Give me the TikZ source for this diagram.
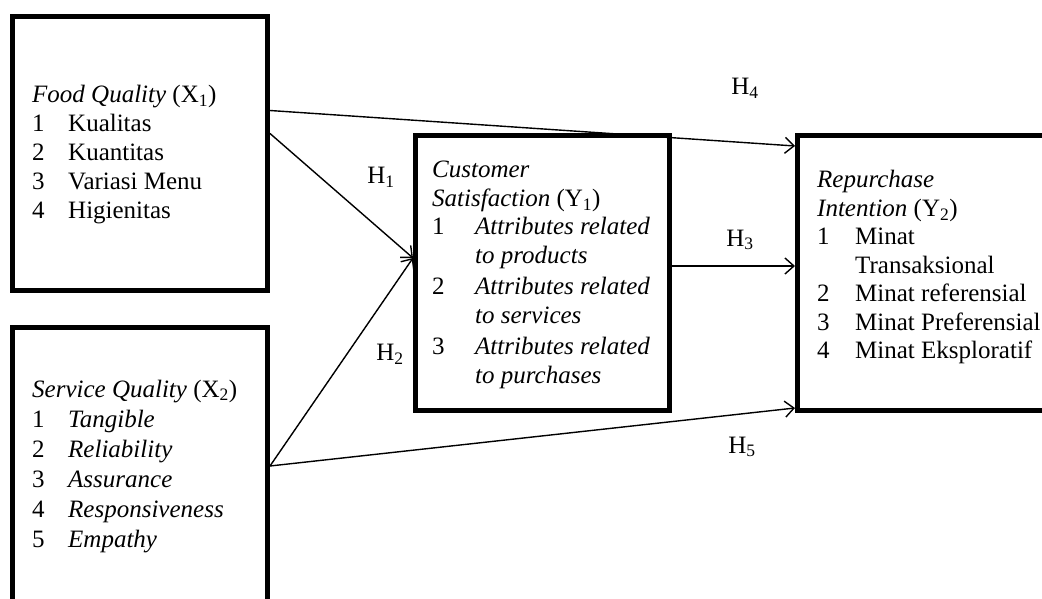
\documentclass[tikz,border=0pt]{standalone}
\usepackage{fontspec}
\setmainfont{Liberation Serif}
\usetikzlibrary{arrows.meta}

\tikzset{
  varbox/.style={draw, rectangle, line width=5pt, inner sep=0pt},
  link/.style={line width=1.4pt, -{Straight Barb[length=9pt,width=16pt]}},
  items/.style={anchor=base west, inner sep=0pt, align=left},
  hyp/.style={inner sep=1pt}
}

\begin{document}
\begin{tikzpicture}[x=1pt, y=-1pt, font=\fontsize{25}{29}\selectfont]

\useasboundingbox (0,0) rectangle (1042,599);
\clip (0,0) rectangle (1042,599);

\begin{scope}

\node[varbox, minimum width=255pt, minimum height=274pt] (x1) at (140,153.5) {};
\node[varbox, minimum width=255pt, minimum height=315pt] (x2) at (140,485) {};
\node[varbox, minimum width=254pt, minimum height=274pt] (y1) at (542.5,273) {};
\node[varbox, minimum width=290pt, minimum height=274pt] (y2) at (942.5,273) {};

\node[items] (x1txt) at (32,103) {\begin{tabular}[t]{@{}p{36pt}@{}l@{}}
\multicolumn{2}{@{}l@{}}{\textit{Food Quality} (X\textsubscript{1})}\\
1 & Kualitas\\
2 & Kuantitas\\
3 & Variasi Menu\\
4 & Higienitas
\end{tabular}};

\node[items, font=\fontsize{25}{30}\selectfont] (x2txt) at (32,397) {\begin{tabular}[t]{@{}p{36pt}@{}l@{}}
\multicolumn{2}{@{}l@{}}{\textit{Service Quality} (X\textsubscript{2})}\\
1 & \textit{Tangible}\\
2 & \textit{Reliability}\\
3 & \textit{Assurance}\\
4 & \textit{Responsiveness}\\
5 & \textit{Empathy}
\end{tabular}};

\node[items, font=\fontsize{25}{28.5}\selectfont] (y1txt) at (432,178) {\begin{tabular}[t]{@{}p{43pt}@{}l@{}}
\multicolumn{2}{@{}l@{}}{\textit{Customer}}\\
\multicolumn{2}{@{}l@{}}{\textit{Satisfaction} (Y\textsubscript{1})}\\
1 & \textit{Attributes related}\\
  & \textit{to products}\\[3pt]
2 & \textit{Attributes related}\\
  & \textit{to services}\\[3pt]
3 & \textit{Attributes related}\\
  & \textit{to purchases}
\end{tabular}};

\node[items, font=\fontsize{25}{28.5}\selectfont] (y2txt) at (817,188) {\begin{tabular}[t]{@{}p{38pt}@{}l@{}}
\multicolumn{2}{@{}l@{}}{\textit{Repurchase}}\\
\multicolumn{2}{@{}l@{}}{\textit{Intention} (Y\textsubscript{2})}\\
1 & Minat\\
  & Transaksional\\
2 & Minat referensial\\
3 & Minat Preferensial\\
4 & Minat Eksploratif
\end{tabular}};


\draw[link] ([yshift=43pt]x1.east) -- ([yshift=127pt]y2.west);
\draw[link] ([yshift=20pt]x1.east) -- ([yshift=15pt]y1.west);
\draw[link] ([yshift=19pt]x2.east) -- ([yshift=15pt]y1.west);
\draw[link] ([yshift=19pt]x2.east) -- ([yshift=-135pt]y2.west);
\draw[link] ([yshift=7pt]y1.east) -- ([yshift=7pt]y2.west);

\node[hyp] (h4) at (745,88) {H\textsubscript{4}};
\node[hyp] (h1) at (381,177) {H\textsubscript{1}};
\node[hyp] (h3) at (740,240) {H\textsubscript{3}};
\node[hyp] (h2) at (390,354) {H\textsubscript{2}};
\node[hyp] (h5) at (742,447) {H\textsubscript{5}};

\end{scope}
\end{tikzpicture}
\end{document}
